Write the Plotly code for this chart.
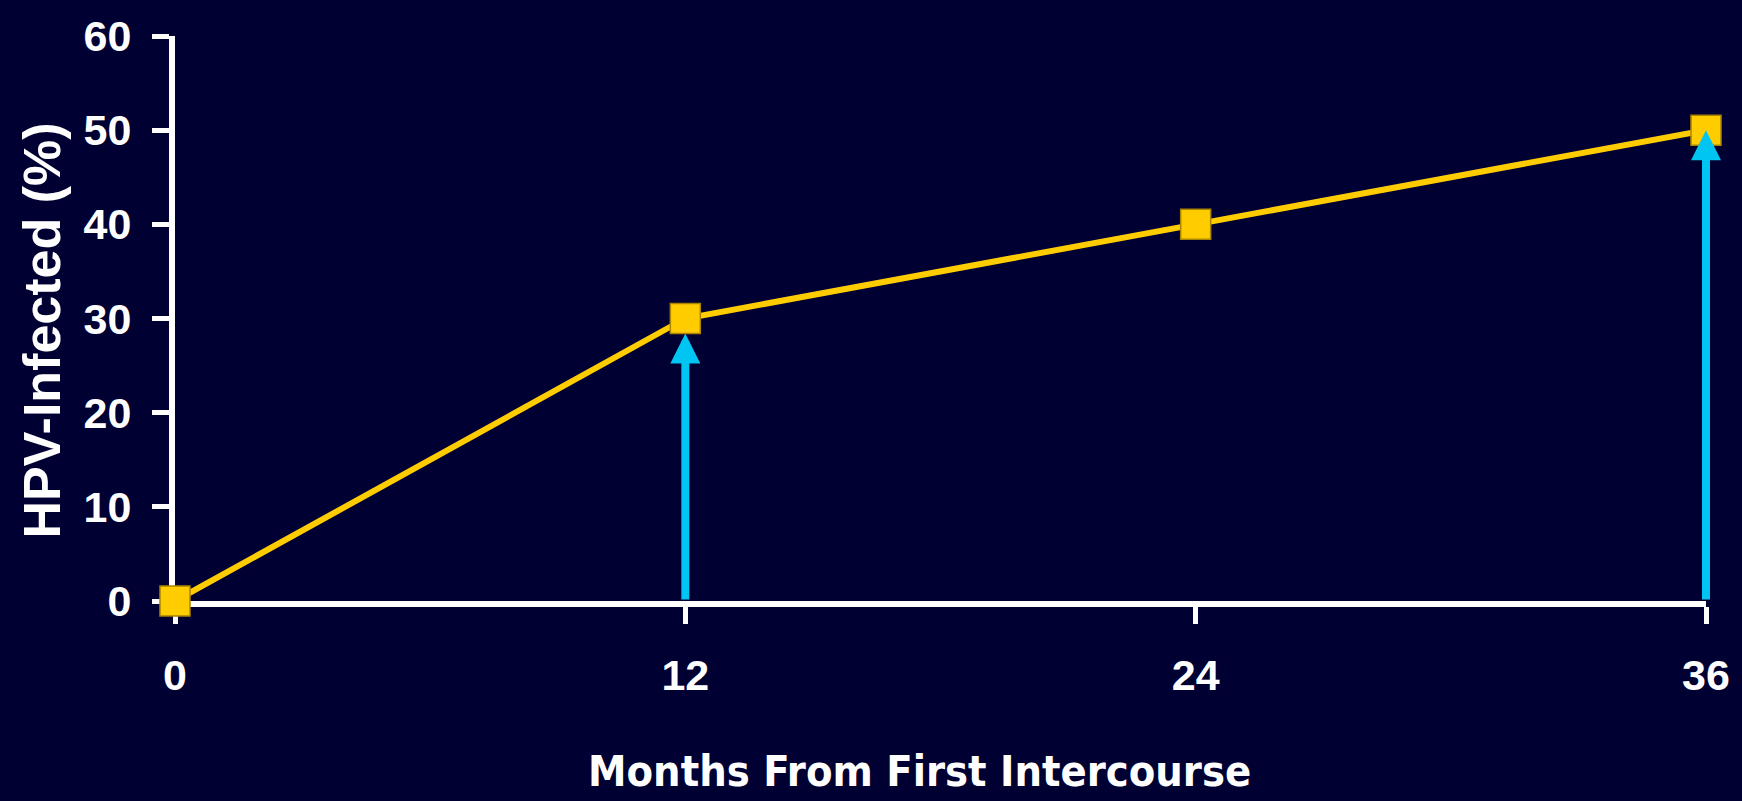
import plotly.graph_objects as go

# Cumulative HPV infection after first intercourse
months = [0, 12, 24, 36]
infected_pct = [0, 30, 40, 50]

# Time points highlighted with upward arrows
arrow_months = [12, 36]
arrow_standoff = [15, 0]

x_ticks = [0, 12, 24, 36]
y_ticks = [0, 10, 20, 30, 40, 50, 60]

BG = "#000033"
GOLD = "#FFCC00"
CYAN = "#00C4F2"

fig = go.Figure()

fig.add_trace(go.Scatter(
    x=months,
    y=infected_pct,
    mode="lines+markers",
    line=dict(color=GOLD, width=6),
    marker=dict(symbol="square", size=30, color=GOLD,
                line=dict(color="#A88400", width=1.5)),
    cliponaxis=False,
    hoverinfo="skip",
))

for m, so in zip(arrow_months, arrow_standoff):
    val = infected_pct[months.index(m)]
    fig.add_annotation(
        x=m, y=val, xref="x", yref="y",
        ax=m, ay=0, axref="x", ayref="y",
        text="", showarrow=True,
        arrowhead=2, arrowsize=0.75, arrowwidth=8,
        arrowcolor=CYAN, standoff=so,
    )

tick_font = dict(family="Liberation Sans, Arial, sans-serif", size=43,
                 color="white", weight="bold")

fig.update_xaxes(
    range=[0, 36],
    tickvals=x_ticks,
    ticktext=[str(v) for v in x_ticks],
    showline=True, linecolor="white", linewidth=6,
    ticks="outside", ticklen=17, tickwidth=5, tickcolor="white",
    showgrid=False, zeroline=False,
    tickfont=tick_font,
    ticklabelstandoff=14,
    layer="below traces",
)
fig.update_yaxes(
    range=[0, 60],
    tickvals=y_ticks,
    showline=True, linecolor="white", linewidth=6,
    ticks="outside", ticklen=17, tickwidth=5, tickcolor="white",
    showgrid=False, zeroline=False,
    tickfont=tick_font,
    ticklabelstandoff=12,
    layer="below traces",
)

# Axis titles
fig.add_annotation(
    text="<b>HPV-Infected (%)</b>", textangle=-90,
    xref="paper", yref="paper", x=-0.0868, y=0.479,
    xanchor="center", yanchor="middle", showarrow=False,
    font=dict(family="Liberation Sans, Arial, sans-serif", size=52, color="white"),
)
fig.add_annotation(
    text="<b>Months From First Intercourse</b>",
    xref="paper", yref="paper", x=0.486, y=-0.300,
    xanchor="center", yanchor="middle", showarrow=False,
    font=dict(family="DejaVu Sans Condensed, DejaVu Sans, sans-serif", size=43, color="white"),
)

fig.update_layout(
    width=1742, height=801,
    paper_bgcolor=BG, plot_bgcolor=BG,
    margin=dict(l=175, r=34, t=34, b=200),
    showlegend=False,
)

fig.write_html("out.html", config={"displayModeBar": False})
